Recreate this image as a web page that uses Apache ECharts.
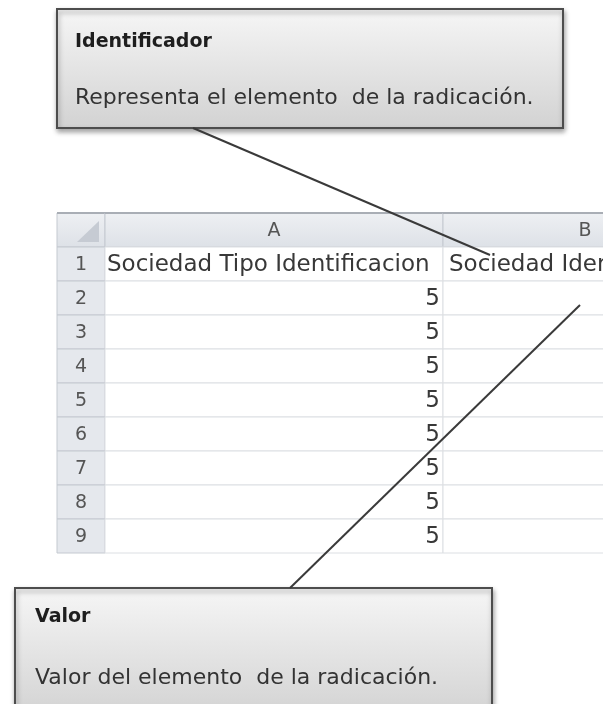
<!DOCTYPE html>
<html>
<head>
<meta charset="utf-8">
<script src="https://cdn.jsdelivr.net/npm/echarts@6/dist/echarts.min.js"></script>
<style>
html,body{margin:0;padding:0;background:#fff;}
#chart{width:603px;height:704px;}
</style>
</head>
<body>
<div id="chart"></div>
<script>
// ---- data ----
const columnLetters = ['A', 'B'];
const rowNumbers = [1, 2, 3, 4, 5, 6, 7, 8, 9];
const headerTexts = ['Sociedad Tipo Identificacion', 'Sociedad Identificacion'];
const valuesA = [5, 5, 5, 5, 5, 5, 5, 5];
const valuesB = ['', '', '', '', '', '', '', ''];
const calloutTitles = ['Identificador', 'Valor'];
const calloutTexts = ['Representa el elemento  de la radicación.', 'Valor del elemento  de la radicación.'];

// ---- layout (sizes only) ----
const colWidths = [48, 338, 284];
const colStarts = [0, 48, 386];
const FONT = '"DejaVu Sans", "Open Sans", sans-serif';

// build cell table
const cells = [];
cells.push({col: 0, row: 0, text: '', kind: 'corner'});
columnLetters.forEach((l, i) => cells.push({col: i + 1, row: 0, text: l, kind: 'colhead'}));
rowNumbers.forEach((n, r) => {
  cells.push({col: 0, row: r + 1, text: String(n), kind: 'rowhead'});
  if (r === 0) {
    cells.push({col: 1, row: 1, text: headerTexts[0], kind: 'left'});
    cells.push({col: 2, row: 1, text: headerTexts[1], kind: 'left'});
  } else {
    cells.push({col: 1, row: r + 1, text: String(valuesA[r - 1]), kind: 'right'});
    cells.push({col: 2, row: r + 1, text: String(valuesB[r - 1]), kind: 'right'});
  }
});

function renderItem(params, api) {
  const c = cells[params.dataIndex];
  const x0 = colStarts[c.col], x1 = x0 + colWidths[c.col];
  const p0 = api.coord([x0, c.row]);
  const p1 = api.coord([x1, c.row + 1]);
  const w = p1[0] - p0[0], h = p1[1] - p0[1];
  const children = [];
  let fill = '#ffffff', stroke = '#dcdfe3';
  if (c.kind === 'colhead' || c.kind === 'corner') {
    fill = new echarts.graphic.LinearGradient(0, 0, 0, 1, [
      {offset: 0, color: '#eef0f3'}, {offset: 1, color: '#dde1e7'}]);
    stroke = '#c4c9d0';
  } else if (c.kind === 'rowhead') {
    fill = '#e5e8ed';
    stroke = '#c4c9d0';
  }
  children.push({type: 'rect', shape: {x: p0[0], y: p0[1], width: w, height: h},
    style: {fill: fill, stroke: stroke, lineWidth: 1}});
  if (c.row === 0) {
    children.push({type: 'line', shape: {x1: p0[0], y1: p0[1], x2: p1[0], y2: p0[1]},
      style: {stroke: '#a9aeb5', lineWidth: 2}});
  }
  if (c.kind === 'corner') {
    children.push({type: 'polygon', shape: {points: [[p1[0] - 6, p0[1] + 8], [p1[0] - 6, p1[1] - 5], [p0[0] + 20, p1[1] - 5]]},
      style: {fill: '#c6cbd3'}});
  }
  if (c.text) {
    let tx, align, color = '#383838', size = 23;
    if (c.kind === 'colhead' || c.kind === 'rowhead') {
      tx = (p0[0] + p1[0]) / 2; align = 'center'; color = '#555'; size = 19;
    } else if (c.kind === 'left') {
      tx = p0[0] + (c.col === 1 ? 2 : 6); align = 'left';
    } else {
      tx = p1[0] - 3; align = 'right';
    }
    children.push({type: 'text', style: {text: c.text, x: tx, y: (p0[1] + p1[1]) / 2 + 1,
      align: align, verticalAlign: 'middle', fontSize: size, fontFamily: FONT, fill: color}});
  }
  return {type: 'group', children: children};
}

const boxFill = new echarts.graphic.LinearGradient(0, 0, 0, 1, [
  {offset: 0, color: '#f6f6f6'}, {offset: 1, color: '#d2d2d2'}]);
const boxStyle = {fill: boxFill, stroke: '#4d4d4d', lineWidth: 2,
  shadowBlur: 5, shadowOffsetX: 1, shadowOffsetY: 3, shadowColor: 'rgba(0,0,0,0.35)'};

const chart = echarts.init(document.getElementById('chart'), null, {renderer: 'canvas'});
chart.setOption({
  animation: false,
  backgroundColor: '#ffffff',
  grid: {left: 57, top: 213, width: 546, height: 340, show: false},
  xAxis: {type: 'value', min: 0, max: 546, show: false},
  yAxis: {type: 'value', min: 0, max: 10, inverse: true, show: false},
  series: [{
    type: 'custom',
    renderItem: renderItem,
    clip: false,
    data: cells.map(c => [c.col, c.row]),
    encode: {x: 0, y: 1}
  }],
  graphic: [
    {type: 'rect', z: 50, shape: {x: 57, y: 9, width: 506, height: 119}, style: boxStyle},
    {type: 'text', z: 51, style: {text: calloutTitles[0], x: 75, y: 42, verticalAlign: 'middle',
      fontSize: 19, fontWeight: 'bold', fontFamily: FONT, fill: '#1e1e1e'}},
    {type: 'text', z: 51, style: {text: calloutTexts[0], x: 75, y: 98, verticalAlign: 'middle',
      fontSize: 22, fontFamily: FONT, fill: '#333'}},
    {type: 'line', z: 52, shape: {x1: 193, y1: 128, x2: 490, y2: 255}, style: {stroke: '#3a3a3a', lineWidth: 2}},
    {type: 'line', z: 52, shape: {x1: 580, y1: 305, x2: 290, y2: 588}, style: {stroke: '#3a3a3a', lineWidth: 2}},
    {type: 'rect', z: 50, shape: {x: 15, y: 588, width: 477, height: 130}, style: boxStyle},
    {type: 'text', z: 51, style: {text: calloutTitles[1], x: 35, y: 617, verticalAlign: 'middle',
      fontSize: 19, fontWeight: 'bold', fontFamily: FONT, fill: '#1e1e1e'}},
    {type: 'text', z: 51, style: {text: calloutTexts[1], x: 35, y: 678, verticalAlign: 'middle',
      fontSize: 22, fontFamily: FONT, fill: '#333'}}
  ]
});
</script>
</body>
</html>
